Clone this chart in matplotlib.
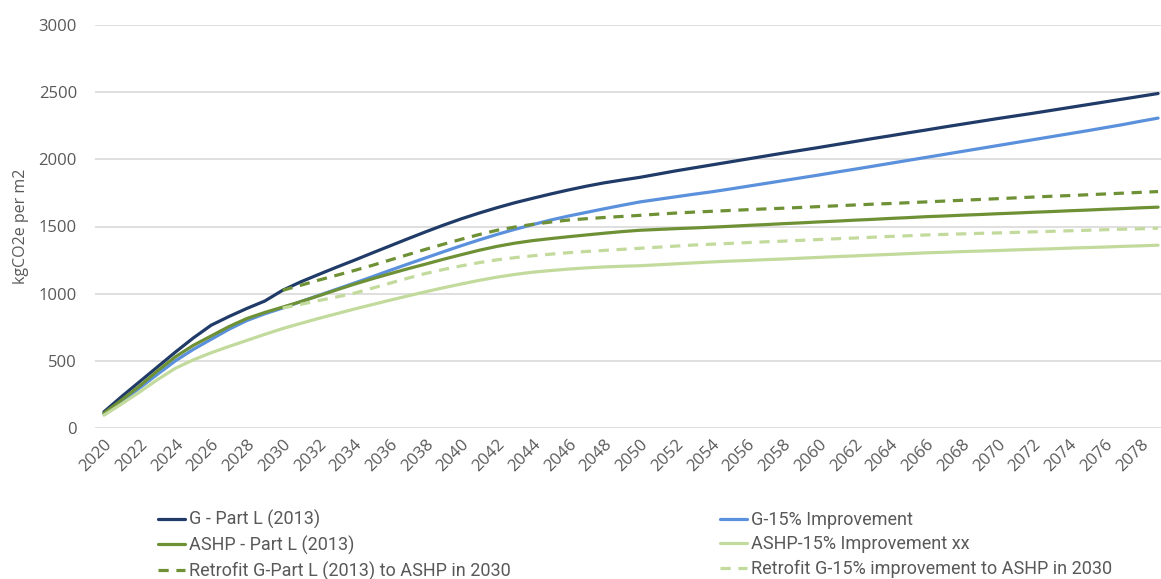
import numpy as np
import matplotlib
matplotlib.use("Agg")
import matplotlib.pyplot as plt

years = list(range(2020, 2080))

g_part_l = [120, 235, 345, 455, 565, 670, 765, 830, 890, 945,
            1025, 1087, 1142, 1196, 1248, 1302, 1355, 1408, 1460, 1510,
            1557, 1600, 1640, 1677, 1710, 1742, 1772, 1800, 1825, 1846,
            1866, 1890, 1914, 1936, 1958, 1980, 2002, 2024, 2046, 2067,
            2088, 2110, 2132, 2154, 2175, 2197, 2218, 2240, 2261, 2282,
            2303, 2323, 2343, 2364, 2385, 2406, 2427, 2448, 2469, 2490]

g_15 = [105, 200, 298, 400, 500, 585, 660, 735, 800, 850,
        893, 940, 986, 1032, 1078, 1125, 1173, 1220, 1266, 1312,
        1357, 1400, 1441, 1479, 1514, 1548, 1578, 1605, 1632, 1658,
        1683, 1702, 1721, 1740, 1758, 1778, 1799, 1820, 1841, 1862,
        1883, 1905, 1926, 1948, 1970, 1992, 2014, 2036, 2058, 2080,
        2102, 2124, 2146, 2168, 2190, 2212, 2235, 2258, 2283, 2307]

ashp_part_l = [110, 210, 313, 425, 530, 615, 685, 755, 815, 860,
               900, 940, 983, 1027, 1070, 1110, 1148, 1185, 1220, 1256,
               1290, 1323, 1352, 1376, 1395, 1410, 1424, 1437, 1450, 1462,
               1472, 1478, 1484, 1489, 1495, 1501, 1508, 1514, 1521, 1527,
               1534, 1540, 1547, 1553, 1560, 1566, 1573, 1578, 1584, 1589,
               1595, 1600, 1606, 1611, 1617, 1622, 1628, 1633, 1639, 1644]

ashp_15 = [95, 180, 268, 360, 445, 507, 560, 607, 652, 697,
           740, 778, 815, 850, 885, 918, 951, 983, 1014, 1044,
           1072, 1099, 1123, 1143, 1160, 1172, 1183, 1192, 1199, 1204,
           1208, 1215, 1222, 1229, 1236, 1242, 1247, 1253, 1258, 1264,
           1270, 1276, 1281, 1287, 1292, 1298, 1304, 1308, 1313, 1317,
           1321, 1326, 1330, 1334, 1339, 1343, 1347, 1352, 1356, 1361]

nan = float("nan")
retro_g_part_l = [nan] * 10 + [
    1025, 1062, 1100, 1136, 1172, 1210, 1250, 1290, 1330, 1368,
    1405, 1440, 1472, 1496, 1516, 1533, 1548, 1558, 1567, 1575,
    1583, 1592, 1600, 1607, 1613, 1619, 1625, 1631, 1636, 1642,
    1648, 1654, 1660, 1666, 1671, 1677, 1683, 1689, 1695, 1701,
    1707, 1713, 1719, 1725, 1730, 1736, 1742, 1748, 1754, 1760]

retro_g_15 = [nan] * 10 + [
    893, 920, 948, 975, 1003, 1040, 1078, 1115, 1150, 1180,
    1207, 1231, 1252, 1268, 1282, 1294, 1305, 1314, 1322, 1330,
    1338, 1346, 1354, 1362, 1368, 1374, 1380, 1386, 1391, 1397,
    1403, 1409, 1414, 1420, 1426, 1431, 1437, 1441, 1445, 1449,
    1452, 1456, 1460, 1464, 1468, 1472, 1476, 1480, 1483, 1487]

labels = ["G - Part L (2013)", "G-15% Improvement",
          "ASHP - Part L (2013)", "ASHP-15% Improvement xx",
          "Retrofit G-Part L (2013) to ASHP in 2030",
          "Retrofit G-15% improvement to ASHP in 2030"]

yticks = [0, 500, 1000, 1500, 2000, 2500, 3000]
xtick_years = list(range(2020, 2080, 2))

c_navy = "#203B68"
c_blue = "#5B91DC"
c_dgreen = "#6F9136"
c_lgreen = "#C2DA9C"

TXT = "#595959"
plt.rcParams['font.family'] = ['Open Sans', 'DejaVu Sans']

fig = plt.figure(figsize=(11.61, 5.79), dpi=100)
ax = fig.add_axes([95 / 1161, 1 - 428 / 579, 1072 / 1161, 403 / 579])

lw = 2.3
dash = (0, (3.2, 2.4))
series = [
    (g_part_l, c_navy, '-'),
    (g_15, c_blue, '-'),
    (ashp_part_l, c_dgreen, '-'),
    (ashp_15, c_lgreen, '-'),
    (retro_g_part_l, c_dgreen, dash),
    (retro_g_15, c_lgreen, dash),
]
handles = []
for (vals, col, ls), lab in zip(series, labels):
    h, = ax.plot(years, vals, color=col, lw=lw, linestyle=ls, label=lab,
                 solid_capstyle='round')
    handles.append(h)

ax.set_xlim(2019.5, 2079.5)
ax.set_ylim(0, 3000)
ax.set_yticks(yticks)
ax.set_yticklabels([str(v) for v in yticks])
ax.set_xticks(xtick_years)
ax.set_xticklabels([str(y) for y in xtick_years], rotation=45, ha='right',
                   rotation_mode='anchor')
ax.tick_params(axis='both', length=0, labelsize=12, labelcolor=TXT)
ax.tick_params(axis='y', pad=13)
ax.tick_params(axis='x', pad=6)
ax.grid(axis='y', color='#D9D9D9', lw=1.2)
ax.set_axisbelow(True)
for s in ax.spines.values():
    s.set_visible(False)
ax.set_ylabel("kgCO2e per m2", fontsize=11.5, color=TXT)
ax.yaxis.set_label_coords(-66 / 1072, 0.5)

leg_font = {'family': ['Roboto', 'DejaVu Sans'], 'size': 13.0}
order = [0, 2, 4, 1, 3, 5]
fig.legend([handles[i] for i in order], [labels[i] for i in order],
           ncol=2, loc='upper left', bbox_to_anchor=(158 / 1161, 1 - 510 / 579),
           frameon=False, handlelength=1.5, handletextpad=0.2,
           labelspacing=0.36, borderpad=0, borderaxespad=0,
           columnspacing=11.6, prop=leg_font, labelcolor=TXT)

fig.savefig("out.png", dpi=100)
